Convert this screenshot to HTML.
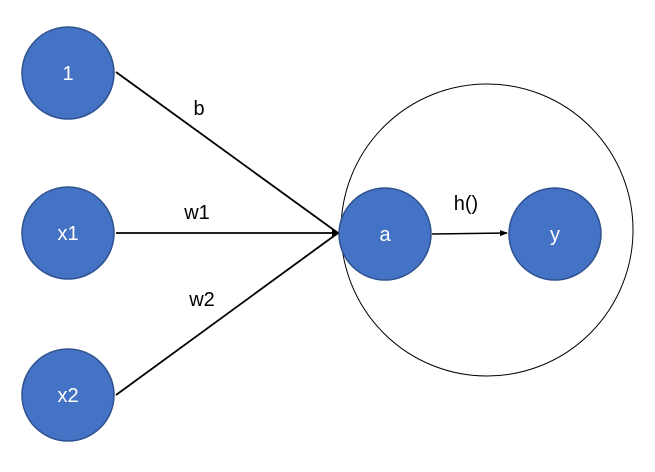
<!DOCTYPE html>
<html><head><meta charset="utf-8"><style>html,body{margin:0;padding:0;background:#fff;}svg{display:block;}</style></head>
<body>
<svg width="655" height="472" viewBox="0 0 655 472" xmlns="http://www.w3.org/2000/svg" font-family="'Liberation Sans', sans-serif">
<defs>
<marker id="ah" markerWidth="8" markerHeight="8" refX="7" refY="4" orient="auto" markerUnits="userSpaceOnUse">
<path d="M0,1 L8,4 L0,7 Z" fill="#000"/></marker>
</defs>
<circle cx="487" cy="230" r="146" fill="none" stroke="#000" stroke-width="1"/>
<line x1="116" y1="72" x2="338" y2="233" stroke="#000" stroke-width="1.8"/>
<line x1="116" y1="233" x2="338" y2="233" stroke="#000" stroke-width="1.8"/>
<line x1="116" y1="395" x2="338" y2="233" stroke="#000" stroke-width="1.8"/>
<path d="M332,229 L340,233 L332,238 Z" fill="#000"/>
<line x1="432" y1="234" x2="507" y2="233" stroke="#000" stroke-width="1.5" marker-end="url(#ah)"/>
<g fill="#4472C4" stroke="#2F528F" stroke-width="1.5">
<ellipse cx="68" cy="73" rx="46" ry="46"/>
<ellipse cx="68" cy="233" rx="46" ry="46"/>
<ellipse cx="68" cy="395" rx="46" ry="46"/>
<ellipse cx="385" cy="234" rx="46" ry="46"/>
<ellipse cx="555" cy="234" rx="46" ry="46"/>
</g>
<g fill="#fff" font-size="20" text-anchor="middle">
<text x="68" y="80">1</text>
<text x="68" y="240">x1</text>
<text x="68" y="402">x2</text>
<text x="385" y="241">a</text>
<text x="555" y="241">y</text>
</g>
<g fill="#000" font-size="20" text-anchor="middle">
<text x="199" y="115">b</text>
<text x="197" y="219">w1</text>
<text x="202" y="306">w2</text>
<text x="466" y="210">h()</text>
</g>
</svg>
</body></html>
